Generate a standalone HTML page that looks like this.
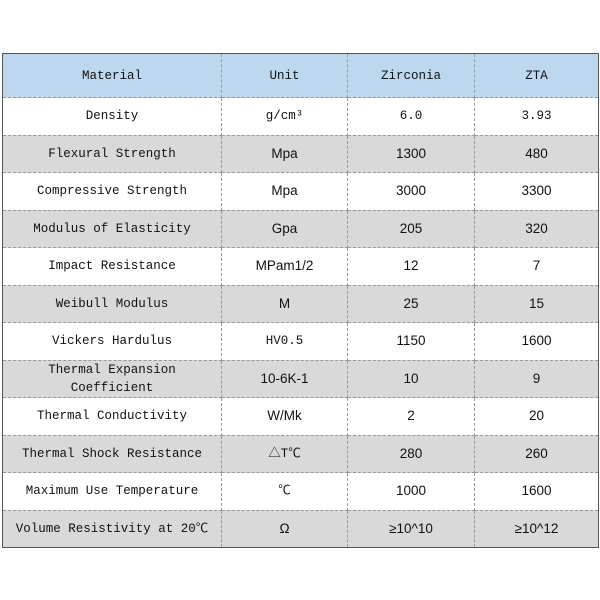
<!DOCTYPE html>
<html><head><style>
body{margin:0;width:600px;height:600px;background:#fff;position:relative;overflow:hidden}
table{position:absolute;left:2px;top:53px;width:596px;border-collapse:collapse;border:1px solid #555;table-layout:fixed}
td{border:1px dashed #999;text-align:center;font-family:"Liberation Mono","Noto Sans CJK SC",monospace;font-size:12.5px;color:#111;height:36.5px;padding:0;line-height:18px}
tr.h td{height:43px;background:#bdd7ee}
tr.g td{background:#d9d9d9}
td.n{font-family:"Liberation Sans","Noto Sans CJK SC",sans-serif;font-size:13.5px}
</style></head><body>
<table>
<col style="width:219px"><col style="width:126px"><col style="width:127px"><col style="width:124px">
<tr class="h"><td>Material</td><td>Unit</td><td>Zirconia</td><td>ZTA</td></tr>
<tr><td>Density</td><td>g/cm³</td><td>6.0</td><td>3.93</td></tr>
<tr class="g"><td>Flexural Strength</td><td class="n">Mpa</td><td class="n">1300</td><td class="n">480</td></tr>
<tr><td>Compressive Strength</td><td class="n">Mpa</td><td class="n">3000</td><td class="n">3300</td></tr>
<tr class="g"><td>Modulus of Elasticity</td><td class="n">Gpa</td><td class="n">205</td><td class="n">320</td></tr>
<tr><td>Impact Resistance</td><td class="n">MPam1/2</td><td class="n">12</td><td class="n">7</td></tr>
<tr class="g"><td>Weibull Modulus</td><td class="n">M</td><td class="n">25</td><td class="n">15</td></tr>
<tr><td>Vickers Hardulus</td><td>HV0.5</td><td class="n">1150</td><td class="n">1600</td></tr>
<tr class="g"><td>Thermal Expansion<br>Coefficient</td><td class="n">10-6K-1</td><td class="n">10</td><td class="n">9</td></tr>
<tr><td>Thermal Conductivity</td><td class="n">W/Mk</td><td class="n">2</td><td class="n">20</td></tr>
<tr class="g"><td>Thermal Shock Resistance</td><td>△T℃</td><td class="n">280</td><td class="n">260</td></tr>
<tr><td>Maximum Use Temperature</td><td>℃</td><td class="n">1000</td><td class="n">1600</td></tr>
<tr class="g"><td>Volume Resistivity at 20℃</td><td class="n">Ω</td><td class="n">≥10^10</td><td class="n">≥10^12</td></tr>
</table>
</body></html>
